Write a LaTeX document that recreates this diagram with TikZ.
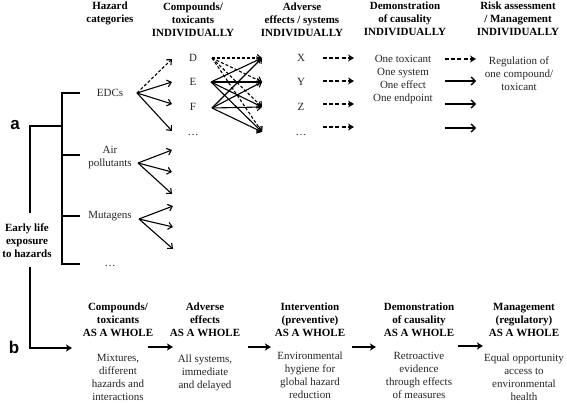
\documentclass[tikz,border=0pt]{standalone}
\usepackage{fontspec}
\setmainfont{Liberation Serif}[BoldFont={Liberation Serif Bold}]
\newfontfamily\labfont{Liberation Sans}[BoldFont={Liberation Sans Bold}]
\usetikzlibrary{arrows.meta}
\begin{document}
\begin{tikzpicture}[x=1pt,y=-1pt,
  every node/.style={inner sep=0pt, align=center, text=black!85, font=\fontsize{11}{13}\selectfont},
  hdr/.style={text=black, font=\fontsize{11}{13}\selectfont\bfseries},
  lab/.style={text=black, font=\fontsize{17}{17}\selectfont\labfont\bfseries},
  tree/.style={line width=1.4pt},
  fan/.style={line width=1.1pt, -{Straight Barb[length=4pt,width=7pt,line width=1.1pt]}},
  dfan/.style={fan, dash pattern=on 3pt off 2pt},
  bigd/.style={line width=2pt, dash pattern=on 4pt off 2.2pt, -{Stealth[length=6pt,width=7pt]}},
  bigs/.style={line width=1.4pt, -{Straight Barb[length=4pt,width=8pt,line width=1.4pt]}},
  flow/.style={line width=1.8pt, -{Stealth[length=6pt,width=7pt,inset=1.5pt]}}]
\useasboundingbox[fill=white] (0,0) rectangle (567,403);

% headers (a)
\node[hdr] (hHaz) at (110,13.5) {Hazard\\categories};
\node[hdr] (hComp) at (193,20) {Compounds/\\toxicants\\INDIVIDUALLY};
\node[hdr] (hAdv) at (302,20) {Adverse\\effects / systems\\INDIVIDUALLY};
\node[hdr] (hDem) at (405,19) {Demonstration\\of causality\\INDIVIDUALLY};
\node[hdr] (hRisk) at (518,19) {Risk assessment\\/ Management\\INDIVIDUALLY};

% hazard categories
\node (edc) at (110,93) {EDCs};
\node (air) at (110,158) {Air\\pollutants};
\node (mut) at (110,216) {Mutagens};
\node[anchor=base] (hdots) at (110,266) {\dots};

% compounds
\node (D) at (193,58) {D};
\node (E) at (193,82) {E};
\node (F) at (193,107) {F};
\node[anchor=base] (cdots) at (193,136) {\dots};

% effects
\node (X) at (301,58) {X};
\node (Y) at (301,82) {Y};
\node (Z) at (301,107) {Z};
\node[anchor=base] (edots) at (301,136) {\dots};

\node (dem) at (403,79.5) {One toxicant\\One system\\One effect\\One endpoint};
\node (reg) at (519,73.5) {Regulation of\\one compound/\\toxicant};

% labels
\node[lab] (la) at (15,125) {a};
\node[lab] (lb) at (14,347) {b};
\node[hdr] (early) at (27,241) {Early life\\exposure\\to hazards};

% tree
\coordinate (aC) at (30,126);
\coordinate (aE) at (30,213);
\coordinate (bS) at (30,267);
\coordinate (bC) at (30,348);
\coordinate (bT) at (72,348);
\coordinate (br0) at (62,126);
\coordinate (brT) at (62,93);
\coordinate (brB) at (62,264);
\coordinate (k1) at (80,93);
\coordinate (k2) at (80,155);
\coordinate (k3) at (80,216);
\coordinate (k4) at (80,264);
\draw[tree] (k1) -- (brT) -- (brB) -- (k4);
\draw[tree] (k2) -- (k2 -| brT);
\draw[tree] (k3) -- (k3 -| brT);
\draw[tree] (br0) -- (aC) -- (aE);
\draw[tree, -{Stealth[length=6pt,width=7pt,inset=1.5pt]}] (bS) -- (bC) -- (bT);

% fans from hazard categories
\coordinate (edcO) at (137,93);
\coordinate (airO) at (138,163);
\coordinate (mutO) at (139,219);
\coordinate (c1) at (172,59);
\coordinate (c2) at (172,82);
\coordinate (c3) at (172,104);
\coordinate (c4) at (172,131);
\coordinate (a1) at (172,150);
\coordinate (a2) at (172,172);
\coordinate (a3) at (172,194);
\coordinate (m1) at (173,206);
\coordinate (m2) at (173,227);
\coordinate (m3) at (173,249);
\draw[dfan] (edcO) -- (c1);
\foreach \t in {c2,c3,c4} \draw[fan] (edcO) -- (\t);
\foreach \t in {a1,a2,a3} \draw[fan] (airO) -- (\t);
\foreach \t in {m1,m2,m3} \draw[fan] (mutO) -- (\t);

% compounds to effects
\coordinate (dO) at (212,58);
\coordinate (eO) at (211,82);
\coordinate (fO) at (212,108);
\coordinate (xI) at (262,58);
\coordinate (yI) at (262,82);
\coordinate (zI) at (262,107);
\coordinate (wI) at (262,132);
\foreach \t in {xI,yI,zI,wI} {
  \draw[dfan] (dO) -- (\t);
  \draw[fan] (eO) -- (\t);
  \draw[fan] (fO) -- (\t);
}

% effects to demonstration
\coordinate (r1s) at (323,58);  \coordinate (r1e) at (354,58);
\coordinate (r2s) at (323,81);  \coordinate (r2e) at (354,81);
\coordinate (r3s) at (323,104); \coordinate (r3e) at (354,104);
\coordinate (r4s) at (323,127); \coordinate (r4e) at (354,127);
\draw[bigd] (r1s) -- (r1e);
\draw[bigd] (r2s) -- (r2e);
\draw[bigd] (r3s) -- (r3e);
\draw[bigd] (r4s) -- (r4e);

% demonstration to regulation
\coordinate (s1s) at (445,59);  \coordinate (s1e) at (476,59);
\coordinate (s2s) at (445,81);  \coordinate (s2e) at (476,81);
\coordinate (s3s) at (445,104); \coordinate (s3e) at (476,104);
\coordinate (s4s) at (445,128); \coordinate (s4e) at (476,128);
\draw[bigd] (s1s) -- (s1e);
\draw[bigs] (s2s) -- (s2e);
\draw[bigs] (s3s) -- (s3e);
\draw[bigs] (s4s) -- (s4e);

% bottom row (b)
\node[hdr] (bh1) at (118,320) {Compounds/\\toxicants\\AS A WHOLE};
\node (bb1) at (118,377) {Mixtures,\\different\\hazards and\\interactions};
\node[hdr] (bh2) at (205,320) {Adverse\\effects\\AS A WHOLE};
\node (bb2) at (205,373) {All systems,\\immediate\\and delayed};
\node[hdr] (bh3) at (310,320) {Intervention\\(preventive)\\AS A WHOLE};
\node (bb3) at (310,375.5) {Environmental\\hygiene for\\global hazard\\reduction};
\node[hdr] (bh4) at (419,320) {Demonstration\\of causality\\AS A WHOLE};
\node (bb4) at (419,375.5) {Retroactive\\evidence\\through effects\\of measures};
\node[hdr] (bh5) at (524,320) {Management\\(regulatory)\\AS A WHOLE};
\node (bb5) at (524,377) {Equal opportunity\\access to\\environmental\\health};

\coordinate (f1s) at (148,347); \coordinate (f1e) at (173,347);
\coordinate (f2s) at (248,347); \coordinate (f2e) at (271,347);
\coordinate (f3s) at (352,347); \coordinate (f3e) at (376,347);
\coordinate (f4s) at (458,346); \coordinate (f4e) at (483,346);
\draw[flow] (f1s) -- (f1e);
\draw[flow] (f2s) -- (f2e);
\draw[flow] (f3s) -- (f3e);
\draw[flow] (f4s) -- (f4e);
\end{tikzpicture}
\end{document}
